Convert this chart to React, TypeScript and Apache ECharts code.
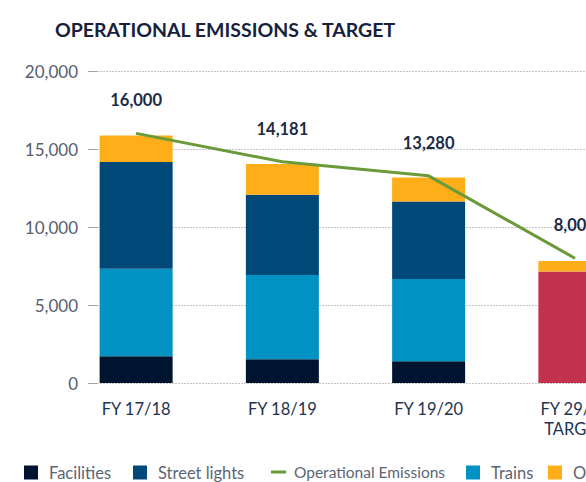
import React, { useEffect, useRef } from "react";
import * as echarts from "echarts";

const categories = ["FY 17/18", "FY 18/19", "FY 19/20", "FY 29/30\nTARGET"];
const facilities = [1710, 1520, 1390, "-"];
const trains = [5620, 5400, 5280, "-"];
const streetLights = [6840, 5150, 4960, "-"];
const target = ["-", "-", "-", 7140];
const other = [1690, 1970, 1540, 680];
const operationalEmissions = [16000, 14181, 13280, 8000];
const yTicks = [0, 5000, 10000, 15000, 20000];
const legendNames = ["Facilities", "Street lights", "Operational Emissions", "Trains", "Other", "Target"];

const FONT = "Lato, 'Open Sans', sans-serif";
const LINE_ICON =
  "path://M0,0L15,0L15,0.01L0,0.01Z M0,5.5L15,5.5L15,8.5L0,8.5Z M0,13.99L15,13.99L15,14L0,14Z";
const legendLefts = [24, 133, 271, 466, 548, 630];

export default function App() {
  const ref = useRef<HTMLDivElement>(null);
  useEffect(() => {
    if (!ref.current) return;
    const chart = echarts.init(ref.current, null, { renderer: "svg" });
    const barBase = {
      type: "bar",
      stack: "total",
      barWidth: 73,
      xAxisIndex: 0,
      yAxisIndex: 0,
    };
    const legends = legendNames.map((name, i) => ({
      left: legendLefts[i] - 5,
      top: 459,
      itemWidth: name === "Operational Emissions" ? 15 : 14,
      itemHeight: 14,
      icon: name === "Operational Emissions" ? LINE_ICON : "rect",
      data: [name],
      textStyle: {
        fontFamily: FONT,
        fontSize: name === "Operational Emissions" ? 15.5 : 16.5,
        color: "#5b6575",
        padding: [0, 0, 0, name === "Operational Emissions" ? 3 : 6],
      },
    }));
    chart.setOption({
      animation: false,
      textStyle: { fontFamily: FONT },
      title: {
        text: "OPERATIONAL EMISSIONS & TARGET",
        left: 50,
        top: 14,
        textStyle: { fontFamily: FONT, fontWeight: "bold", fontSize: 19.5, color: "#16223d" },
      },
      legend: legends,
      grid: [
        { left: 63, right: 52, top: 71, bottom: 99 },
        { left: 97, right: 52, top: 71, bottom: 99 },
      ],
      xAxis: [
        {
          type: "category",
          gridIndex: 0,
          data: categories,
          axisLine: { show: false },
          axisTick: { show: false },
          axisLabel: { fontFamily: FONT, fontSize: 16.5, color: "#1f3350", margin: 16, lineHeight: 20 },
        },
        {
          type: "category",
          gridIndex: 1,
          data: categories,
          show: false,
        },
      ],
      yAxis: [
        {
          type: "value",
          gridIndex: 0,
          min: 0,
          max: 20000,
          interval: 5000,
          show: false,
          splitLine: { show: false },
        },
        {
          type: "value",
          gridIndex: 1,
          min: 0,
          max: 20000,
          interval: 5000,
          axisLine: { show: false },
          axisTick: { show: true, length: 9, lineStyle: { color: "#a0a0a0" } },
          splitLine: { show: true, lineStyle: { color: "#c4c4c4", type: [2, 1], width: 1 } },
          axisLabel: {
            fontFamily: FONT,
            fontSize: 17,
            color: "#56606e",
            margin: 19,
            formatter: (v: number) => (yTicks.includes(v) ? v.toLocaleString("en-US") : ""),
          },
        },
      ],
      series: [
        { ...barBase, name: "Facilities", data: facilities, itemStyle: { color: "#00142f" } },
        { ...barBase, name: "Trains", data: trains, itemStyle: { color: "#0092c3" } },
        { ...barBase, name: "Street lights", data: streetLights, itemStyle: { color: "#004878" } },
        { ...barBase, name: "Target", data: target, itemStyle: { color: "#c2324e" } },
        { ...barBase, name: "Other", data: other, itemStyle: { color: "#fdae19" } },
        {
          type: "line",
          name: "Operational Emissions",
          xAxisIndex: 0,
          yAxisIndex: 0,
          data: operationalEmissions,
          symbol: "circle",
          symbolSize: 1,
          showSymbol: true,
          z: 5,
          lineStyle: { color: "#6a9a3a", width: 3 },
          itemStyle: { color: "#6a9a3a" },
          label: {
            show: true,
            position: "top",
            distance: 24,
            fontFamily: FONT,
            fontWeight: "bold",
            fontSize: 16.5,
            color: "#1a2b45",
            formatter: (p: any) => Number(p.value).toLocaleString("en-US"),
          },
        },
      ],
    });
    return () => chart.dispose();
  }, []);
  return (
    <div
      style={{
        position: "fixed",
        left: 0,
        top: 0,
        width: 586,
        height: 482,
        overflow: "hidden",
        background: "#fff",
      }}
    >
      <div ref={ref} style={{ width: 700, height: 482 }} />
    </div>
  );
}
